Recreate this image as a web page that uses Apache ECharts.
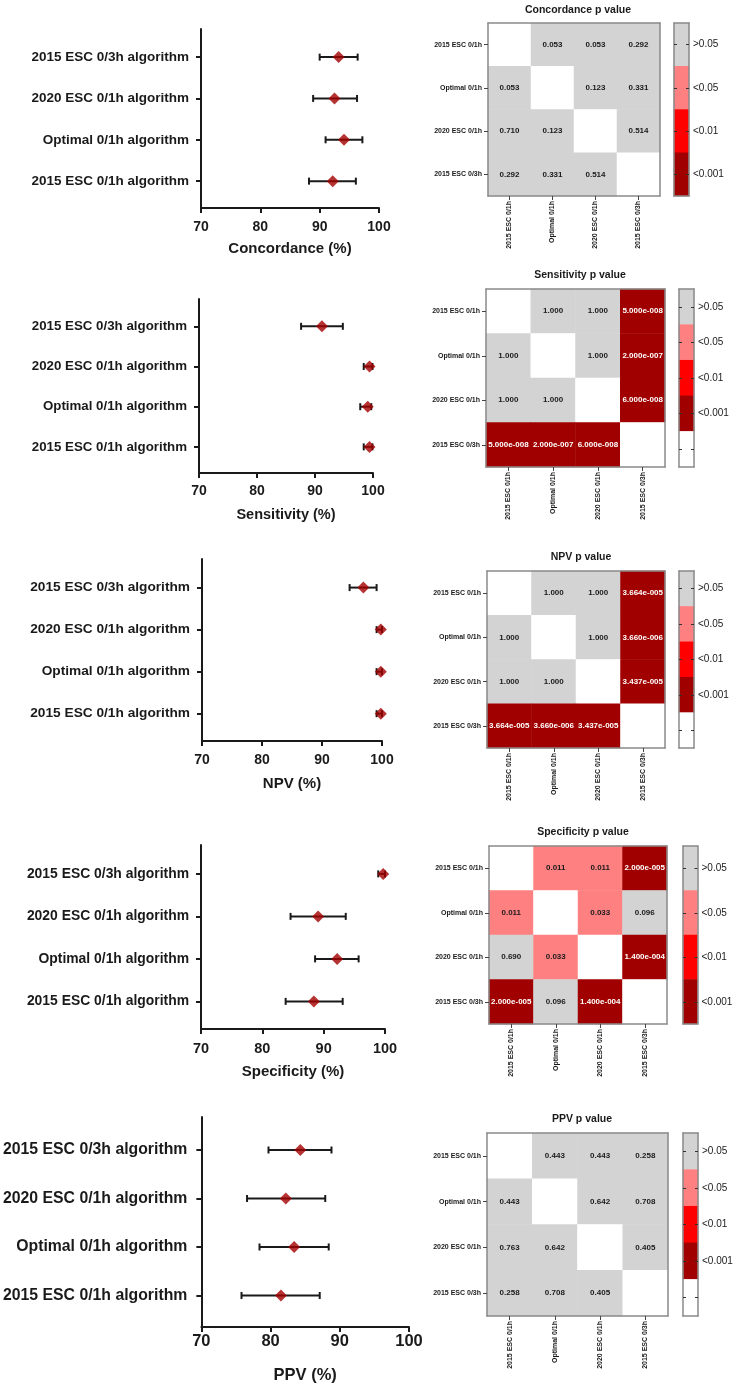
<!DOCTYPE html>
<html><head><meta charset="utf-8">
<script src="https://cdn.jsdelivr.net/npm/echarts@6/dist/echarts.min.js"></script>
<style>html,body{margin:0;padding:0;background:#fff}#c{width:737px;height:1386px}</style>
</head><body><div id="c"></div>
<script>
// ---------- DATA ----------
// Forest plot categories (bottom -> top)
const forestCats = ['2015 ESC 0/1h algorithm', 'Optimal 0/1h algorithm', '2020 ESC 0/1h algorithm', '2015 ESC 0/3h algorithm'];
const xTicks = [70, 80, 90, 100];

const concordanceMean = [92.2, 94.1, 92.5, 93.2];
const concordanceLow  = [88.2, 91.0, 88.9, 90.0];
const concordanceHigh = [96.1, 97.2, 96.3, 96.4];

const sensitivityMean = [99.4, 99.1, 99.4, 91.2];
const sensitivityLow  = [98.4, 97.8, 98.4, 87.6];
const sensitivityHigh = [99.9, 99.7, 99.9, 94.8];

const npvMean = [99.8, 99.8, 99.8, 96.9];
const npvLow  = [99.1, 99.1, 99.1, 94.6];
const npvHigh = [100, 100, 100, 99.1];

const specificityMean = [88.4, 92.2, 89.1, 99.7];
const specificityLow  = [83.8, 88.6, 84.6, 98.9];
const specificityHigh = [93.1, 95.7, 93.6, 100];

const ppvMean = [81.5, 83.4, 82.2, 84.3];
const ppvLow  = [75.8, 78.4, 76.6, 79.7];
const ppvHigh = [87.1, 88.4, 87.9, 88.8];

// Heatmap categories (rows top -> bottom, columns left -> right)
const heatCats = ['2015 ESC 0/1h', 'Optimal 0/1h', '2020 ESC 0/1h', '2015 ESC 0/3h'];
const concordanceP = [[null, 0.053, 0.053, 0.292], [0.053, null, 0.123, 0.331], [0.710, 0.123, null, 0.514], [0.292, 0.331, 0.514, null]];
const sensitivityP = [[null, 1, 1, 5e-8], [1, null, 1, 2e-7], [1, 1, null, 6e-8], [5e-8, 2e-7, 6e-8, null]];
const npvP = [[null, 1, 1, 3.664e-5], [1, null, 1, 3.660e-6], [1, 1, null, 3.437e-5], [3.664e-5, 3.660e-6, 3.437e-5, null]];
const specificityP = [[null, 0.011, 0.011, 2e-5], [0.011, null, 0.033, 0.096], [0.690, 0.033, null, 1.4e-4], [2e-5, 0.096, 1.4e-4, null]];
const ppvP = [[null, 0.443, 0.443, 0.258], [0.443, null, 0.642, 0.708], [0.763, 0.642, null, 0.405], [0.258, 0.708, 0.405, null]];

const levelLabels = ['>0.05', '<0.05', '<0.01', '<0.001', ''];

// ---------- STYLE / LAYOUT ----------
const FONT = 'Liberation Sans, Arial, sans-serif';
const levelColors = ['#d3d3d3', '#ff8080', '#ff0000', '#a00000', '#ffffff'];
const FRAME = '#8a8a8a';
const INK = '#1a1a1a';
const MARK = '#a30000';

const panels = [
  { axisName: 'Concordance (%)', mean: concordanceMean, low: concordanceLow, high: concordanceHigh,
    hmTitle: 'Concordance p value', P: concordanceP, levels: 4,
    forest: { left: 201, top: 29, width: 178, height: 179 }, catFont: 13.5, tickFont: 14, nameFont: 15, nameGap: 33, tickMargin: 12, catMargin: 12,
    heat: { left: 488, top: 23, width: 172, height: 173 }, cb: { left: 674, top: 23, width: 15, height: 173 }, tx: 573, ty: 6 },
  { axisName: 'Sensitivity (%)', mean: sensitivityMean, low: sensitivityLow, high: sensitivityHigh,
    hmTitle: 'Sensitivity p value', P: sensitivityP, levels: 5,
    forest: { left: 199, top: 299, width: 174, height: 174 }, catFont: 13.3, tickFont: 14, nameFont: 14.5, nameGap: 34, tickMargin: 11, catMargin: 12,
    heat: { left: 486, top: 289, width: 179, height: 178 }, cb: { left: 679, top: 289, width: 15, height: 178 }, tx: 575, ty: 271 },
  { axisName: 'NPV (%)', mean: npvMean, low: npvLow, high: npvHigh,
    hmTitle: 'NPV p value', P: npvP, levels: 5,
    forest: { left: 202, top: 559, width: 180, height: 182 }, catFont: 13.7, tickFont: 14, nameFont: 15, nameGap: 35, tickMargin: 12, catMargin: 12,
    heat: { left: 487, top: 571, width: 178, height: 177 }, cb: { left: 679, top: 571, width: 15, height: 177 }, tx: 576, ty: 553 },
  { axisName: 'Specificity (%)', mean: specificityMean, low: specificityLow, high: specificityHigh,
    hmTitle: 'Specificity p value', P: specificityP, levels: 4,
    forest: { left: 201, top: 845, width: 184, height: 184 }, catFont: 13.9, tickFont: 14.5, nameFont: 15, nameGap: 35, tickMargin: 12, catMargin: 12,
    heat: { left: 489, top: 846, width: 178, height: 178 }, cb: { left: 683, top: 846, width: 14.5, height: 178 }, tx: 578, ty: 828 },
  { axisName: 'PPV (%)', mean: ppvMean, low: ppvLow, high: ppvHigh,
    hmTitle: 'PPV p value', P: ppvP, levels: 5,
    forest: { left: 200, top: 1117, width: 209, height: 210 }, catFont: 15.8, tickFont: 16.5, nameFont: 16.5, nameGap: 40, tickMargin: 6, catMargin: 14,
    heat: { left: 487, top: 1133, width: 181, height: 183 }, cb: { left: 683, top: 1133, width: 15, height: 183 }, tx: 577, ty: 1115 }
];

function fmtP(p) {
  if (p >= 0.001) return p.toFixed(3);
  const s = p.toExponential(3);
  const parts = s.split('e');
  const sign = parts[1][0];
  return parts[0] + 'e' + sign + parts[1].slice(1).padStart(3, '0');
}
function levelOf(p) {
  if (p == null) return 4;
  if (p < 0.001) return 3;
  if (p < 0.01) return 2;
  if (p < 0.05) return 1;
  return 0;
}

const grid = [], xAxis = [], yAxis = [], series = [], title = [];

function frameAxis(gi, pos, data) {
  return {
    type: 'category', gridIndex: gi, position: pos, data: data, z: 10,
    axisLine: { show: true, lineStyle: { color: FRAME, width: 1.5 } },
    axisTick: { show: false }, axisLabel: { show: false }, splitLine: { show: false }
  };
}

panels.forEach(function (pn) {
  // ----- forest plot -----
  let gi = grid.length;
  grid.push(Object.assign({ containLabel: false }, pn.forest));
  const xi = xAxis.length, yi = yAxis.length;
  xAxis.push({
    type: 'value', gridIndex: gi, min: 70, max: 100, interval: 10,
    axisLine: { show: true, onZero: false, lineStyle: { color: INK, width: 2 } },
    axisTick: { show: true, length: 5, lineStyle: { color: INK, width: 2 } },
    axisLabel: { show: true, color: INK, fontFamily: FONT, fontWeight: 'bold', fontSize: pn.tickFont, margin: pn.tickMargin,
      customValues: xTicks },
    splitLine: { show: false },
    name: pn.axisName, nameLocation: 'middle', nameGap: pn.nameGap,
    nameTextStyle: { color: INK, fontFamily: FONT, fontWeight: 'bold', fontSize: pn.nameFont }
  });
  yAxis.push({
    type: 'value', gridIndex: gi, min: 0.35, max: 4.68,
    axisLine: { show: true, onZero: false, lineStyle: { color: INK, width: 2 } },
    axisTick: { show: true, length: 5, lineStyle: { color: INK, width: 2 }, customValues: [1, 2, 3, 4] },
    axisLabel: { show: true, color: INK, fontFamily: FONT, fontWeight: 'bold', fontSize: pn.catFont, margin: pn.catMargin,
      customValues: [1, 2, 3, 4], formatter: function (v) { return forestCats[Math.round(v) - 1]; } },
    splitLine: { show: false }
  });
  const errData = pn.mean.map(function (m, i) { return [pn.low[i], pn.high[i], i + 1]; });
  series.push({
    type: 'custom', xAxisIndex: xi, yAxisIndex: yi, clip: false, z: 3,
    encode: { x: [0, 1], y: 2 },
    data: errData,
    renderItem: function (params, api) {
      const y = api.value(2);
      const p1 = api.coord([api.value(0), y]);
      const p2 = api.coord([api.value(1), y]);
      const h = 3.5;
      const st = { stroke: INK, lineWidth: 2 };
      return { type: 'group', children: [
        { type: 'line', shape: { x1: p1[0], y1: p1[1], x2: p2[0], y2: p2[1] }, style: st },
        { type: 'line', shape: { x1: p1[0], y1: p1[1] - h, x2: p1[0], y2: p1[1] + h }, style: st },
        { type: 'line', shape: { x1: p2[0], y1: p2[1] - h, x2: p2[0], y2: p2[1] + h }, style: st }
      ] };
    }
  });
  series.push({
    type: 'scatter', xAxisIndex: xi, yAxisIndex: yi, z: 4, clip: false,
    symbol: 'diamond', symbolSize: 12,
    itemStyle: { color: MARK },
    data: pn.mean.map(function (m, i) { return [m, i + 1]; })
  });

  // ----- heatmap -----
  gi = grid.length;
  grid.push(Object.assign({}, pn.heat));
  const hx = xAxis.length, hy = yAxis.length;
  xAxis.push({
    type: 'category', gridIndex: gi, data: heatCats, position: 'bottom', z: 10,
    axisLine: { show: true, lineStyle: { color: FRAME, width: 1.5 } },
    axisTick: { show: true, alignWithLabel: true, length: 4, lineStyle: { color: '#444', width: 1 } },
    axisLabel: { rotate: 90, color: INK, fontFamily: FONT, fontWeight: 'bold', fontSize: 7, margin: 5, interval: 0 },
    splitLine: { show: false }
  });
  yAxis.push({
    type: 'category', gridIndex: gi, data: heatCats, inverse: true, position: 'left', z: 10,
    axisLine: { show: true, lineStyle: { color: FRAME, width: 1.5 } },
    axisTick: { show: true, alignWithLabel: true, length: 4, lineStyle: { color: '#444', width: 1 } },
    axisLabel: { color: INK, fontFamily: FONT, fontWeight: 'bold', fontSize: 7, margin: 6, interval: 0 },
    splitLine: { show: false }
  });
  xAxis.push(frameAxis(gi, 'top', heatCats));
  const fy = frameAxis(gi, 'right', heatCats); fy.inverse = true; yAxis.push(fy);
  const hData = [];
  pn.P.forEach(function (row, r) {
    row.forEach(function (p, c) {
      const lv = levelOf(p);
      hData.push({
        value: [c, r, p == null ? 0 : p],
        itemStyle: { color: levelColors[lv] },
        label: { show: p != null, formatter: p == null ? '' : fmtP(p), color: lv === 3 ? '#ffffff' : INK }
      });
    });
  });
  series.push({
    type: 'heatmap', xAxisIndex: hx, yAxisIndex: hy, z: 2,
    label: { show: true, fontFamily: FONT, fontWeight: 'bold', fontSize: 8 },
    itemStyle: { borderWidth: 0 },
    emphasis: { disabled: true },
    data: hData
  });

  // ----- colour bar -----
  gi = grid.length;
  grid.push(Object.assign({}, pn.cb));
  const levels = levelLabels.slice(0, pn.levels);
  const cx = xAxis.length, cy = yAxis.length;
  xAxis.push(frameAxis(gi, 'bottom', ['']));
  xAxis.push(frameAxis(gi, 'top', ['']));
  yAxis.push({
    type: 'category', gridIndex: gi, data: levels, inverse: true, position: 'right', z: 10,
    axisLine: { show: true, lineStyle: { color: FRAME, width: 1.5 } },
    axisTick: { show: true, inside: true, alignWithLabel: true, length: 3, lineStyle: { color: '#333', width: 1 } },
    axisLabel: { color: INK, fontFamily: FONT, fontSize: 10, margin: 4, interval: 0 },
    splitLine: { show: false }
  });
  yAxis.push({
    type: 'category', gridIndex: gi, data: levels, inverse: true, position: 'left', z: 10,
    axisLine: { show: true, lineStyle: { color: FRAME, width: 1.5 } },
    axisTick: { show: true, inside: true, alignWithLabel: true, length: 3, lineStyle: { color: '#333', width: 1 } },
    axisLabel: { show: false },
    splitLine: { show: false }
  });
  series.push({
    type: 'heatmap', xAxisIndex: cx, yAxisIndex: cy, z: 2,
    emphasis: { disabled: true },
    data: levels.map(function (l, i) { return { value: [0, i, i], itemStyle: { color: levelColors[i] } }; })
  });

  title.push({
    text: pn.hmTitle, left: pn.tx, top: pn.ty - 6.5, textAlign: 'center',
    textStyle: { fontFamily: FONT, fontWeight: 'bold', fontSize: 10.5, color: INK }
  });
});

const chart = echarts.init(document.getElementById('c'), null, { renderer: 'canvas' });
chart.setOption({
  backgroundColor: '#ffffff',
  animation: false,
  title: title,
  grid: grid,
  xAxis: xAxis,
  yAxis: yAxis,
  series: series
});
</script></body></html>
